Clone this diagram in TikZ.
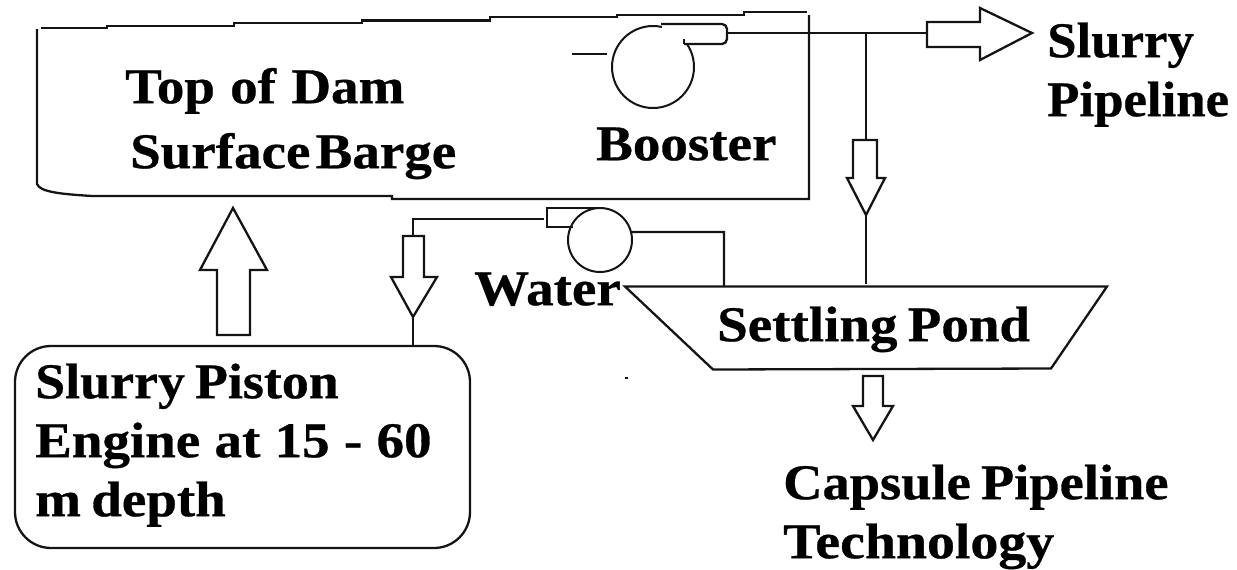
\documentclass[tikz,border=0pt]{standalone}
\usepackage{fontspec}
\setmainfont[BoldFeatures={FakeStretch=1.1,FakeBold=0.6},WordSpace=0.75]{Liberation Serif}
\tikzset{
 x=1pt,y=-1pt,
 ln/.style={draw=black!92,line width=2.3pt,line join=miter},
 lab/.style={inner sep=0pt,anchor=north west,align=left,text=black,font=\bfseries\fontsize{50}{59}\selectfont},
}
\newcommand{\fs}{\rule{0pt}{40pt}}
\begin{document}
\begin{tikzpicture}
\useasboundingbox (0,0) rectangle (1237,570);
% barge
\draw[ln] (41,28) -- (107,28) -- (107,25.7) -- (234,25.7) -- (234,23.2) -- (362,23.2) -- (362,20.4) -- (490,20.4) -- (490,17) -- (617,17) -- (617,14.7) -- (744,14.7) -- (744,12) -- (807,12);
\draw[ln] (809,15) -- (809,199) -- (392,199) -- (392,196) -- (92,196) .. controls (60,194) and (40,192) .. (37,184) -- (37,29);
% booster
\node[circle,draw=black!92,line width=2pt,minimum size=82pt,inner sep=0pt] (bp) at (653,67) {};
\fill[white] (662,22) rectangle (723,43);
\draw[ln,rounded corners=5pt] (661,24) -- (727,24) -- (727,44) -- (684,44);
\draw[ln] (684,44) -- (684,39);
\coordinate (dashA) at (572,54); \coordinate (dashB) at (607,54);
\draw[ln] (dashA) -- (dashB);
\coordinate (bout) at (727,33);
\coordinate (sj) at (866,33);
\node[inner sep=0pt] (sa) at (927,33) {};
\draw[ln] (bout) -- (sa.center);
\draw[ln] (927,22) -- (980,22) -- (980,8) -- (1032,33) -- (980,60) -- (980,47) -- (927,47) -- cycle;
% downward branch to pond
\draw[ln] (sj) -- (866,140);
\draw[ln] (853,140) -- (877,140) -- (877,178) -- (885,178) -- (866,215) -- (847,178) -- (853,178) -- cycle;
\draw[ln] (866,215) -- (866,284);
% pond
\draw[ln] (625,286.5) -- (1107,286.5) -- (1051,368.5) -- (713,369.5) -- cycle;
% water pump
\node[circle,draw=black!92,line width=2pt,minimum size=64pt,inner sep=0pt,fill=white] (wp) at (600,240) {};
\draw[ln] (573,227) -- (547,227) -- (547,208) -- (600,208);
\draw[ln] (wp.14.5) -- (724,232) -- (724,286);
\draw[ln] (544,219) -- (413,219) -- (413,236);
\draw[ln] (403,236) -- (424,236) -- (424,277) -- (437,277) -- (413,317) -- (391,277) -- (403,277) -- cycle;
\draw[ln] (413,317) -- (413,346);
% piston box
\node[draw=black!92,line width=2.3pt,rounded corners=36pt,minimum width=455pt,minimum height=202pt,inner sep=0pt] (box) at (242.5,447) {};
% up arrow
\draw[ln] (217,335) -- (250,335) -- (250,270) -- (267,270) -- (233,208) -- (200,270) -- (217,270) -- cycle;
% pond out
\draw[ln] (863,376) -- (883,376) -- (883,406) -- (893,406) -- (873,440) -- (853,406) -- (863,406) -- cycle;
% dot
\fill[black!92] (625,377) rectangle (628,379);
% text
\node[lab] (t1) at (125,63) {\fs Top\hspace{5pt} of\hspace{5pt} Dam};
\node[lab] (t2) at (130,128) {\fs Surface\hspace{-5pt} Barge};
\node[lab] (t3) at (596,120) {\fs Booster};
\node[lab] (t4) at (1047,17) {\fs\scalebox{.96}[1]{Slurry}\\\scalebox{.96}[1]{Pipeline}};
\node[lab] (t5) at (474,265) {\fs Water};
\node[lab] (t6) at (717,301) {\fs Settling Pond};
\node[lab] (t7) at (35,358) {\fs\scalebox{.98}[1]{Slurry Piston}\\Engine\hspace{4pt} at\hspace{4pt} 15\hspace{4pt} -\hspace{4pt} 60\\m depth};
\node[lab] (t8) at (783,459) {\fs\scalebox{.99}[1]{Capsule Pipeline}\\\scalebox{1.015}[1]{Technology}};
\end{tikzpicture}
\end{document}
